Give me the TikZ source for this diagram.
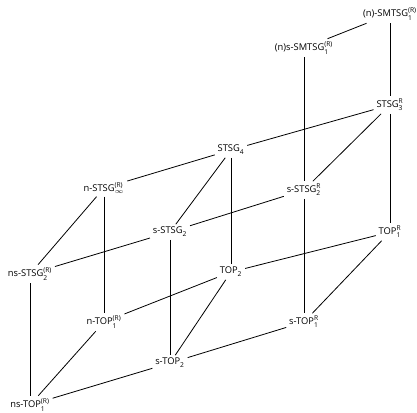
\documentclass[tikz,border=0pt]{standalone}
\usepackage{fontspec}
\setmainfont{Open Sans}
\newcommand{\ix}[2]{\ensuremath{^{\mbox{\fontsize{5}{5}\selectfont #2}}_{\mbox{\fontsize{5}{5}\selectfont #1}}}}

\begin{document}
\begin{tikzpicture}[
  x=0.75pt, y=-0.75pt,
  every node/.style = {font=\fontsize{7}{8}\selectfont},
  cls/.style        = {inner sep=2pt},
  incl/.style       = {draw=black, line width=0.6pt},
]
  \useasboundingbox (0,0) rectangle (417,412);

  % ---------------------------------------------------------------- top
  \node[cls] (nsmt)  at (390,14)  {(n)-SMTSG\ix{1}{(R)}};
  \node[cls] (nssmt) at (304,48)  {(n)s-SMTSG\ix{1}{(R)}};

  % ------------------------------------------------------------ STSG layer
  \node[cls] (st3)   at (390,105) {STSG\ix{3}{R}};
  \node[cls] (st4)   at (231,150) {STSG\ix{4}{}};
  \node[cls] (nstinf) at (104,188) {n-STSG\ix{$\scriptscriptstyle\infty$}{(R)}};
  \node[cls] (sst2r) at (304,190) {s-STSG\ix{2}{R}};
  \node[cls] (sst2)  at (170,232) {s-STSG\ix{2}{}};
  \node[cls] (nsst2) at (30,274)  {ns-STSG\ix{2}{(R)}};

  % ------------------------------------------------------------- TOP layer
  \node[cls] (top1r)  at (390,232) {TOP\ix{1}{R}};
  \node[cls] (top2)   at (231,272) {TOP\ix{2}{}};
  \node[cls] (ntop1)  at (104,322) {n-TOP\ix{1}{(R)}};
  \node[cls] (stop1r) at (304,322) {s-TOP\ix{1}{R}};
  \node[cls] (stop2)  at (170,363) {s-TOP\ix{2}{}};
  \node[cls] (nstop1) at (30,405)  {ns-TOP\ix{1}{(R)}};

  % --------------------------------------------------------------- edges
  \draw[incl] (nsmt) -- (nssmt);
  \draw[incl] (nsmt) -- (st3);
  \draw[incl] (nssmt) -- (sst2r);
  \draw[incl] (st3) -- (st4);
  \draw[incl] (st3) -- (sst2r);
  \draw[incl] (st3) -- (top1r);
  \draw[incl] (st4) -- (nstinf);
  \draw[incl] (st4) -- (sst2);
  \draw[incl] (st4) -- (top2);
  \draw[incl] (nstinf) -- (nsst2);
  \draw[incl] (nstinf) -- (ntop1);
  \draw[incl] (sst2r) -- (sst2);
  \draw[incl] (sst2r) -- (stop1r);
  \draw[incl] (sst2) -- (nsst2);
  \draw[incl] (sst2) -- (stop2);
  \draw[incl] (nsst2) -- (nstop1);
  \draw[incl] (top1r) -- (top2);
  \draw[incl] (top1r) -- (stop1r);
  \draw[incl] (top2) -- (ntop1);
  \draw[incl] (top2) -- (stop2);
  \draw[incl] (ntop1) -- (nstop1);
  \draw[incl] (stop1r) -- (stop2);
  \draw[incl] (stop2) -- (nstop1);

\end{tikzpicture}
\end{document}
